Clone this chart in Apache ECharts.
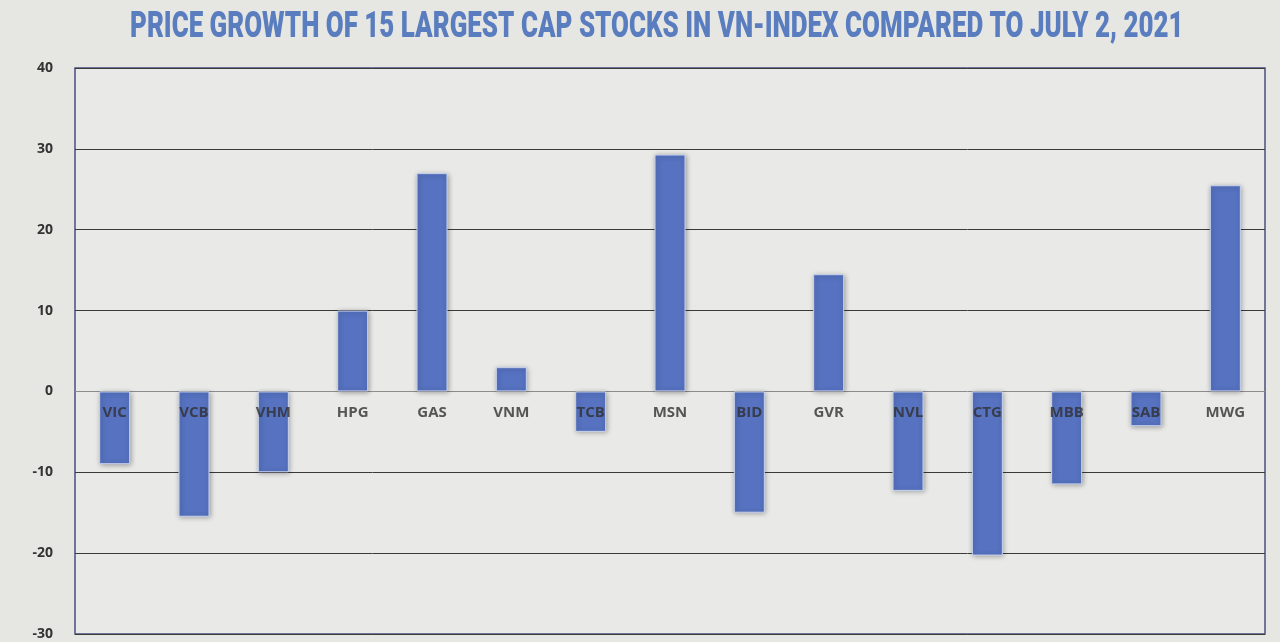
<!DOCTYPE html>
<html><head><meta charset="utf-8">
<script src="https://cdn.jsdelivr.net/npm/echarts@6/dist/echarts.min.js"></script>
<style>html,body{margin:0;padding:0;background:#e6e7e3;}#c{width:1280px;height:642px;}</style>
</head><body><div id="c"></div>
<script>
const categories = ['VIC','VCB','VHM','HPG','GAS','VNM','TCB','MSN','BID','GVR','NVL','CTG','MBB','SAB','MWG'];
const growth = [-9, -15.5, -10, 10, 27, 3, -5, 29.3, -15, 14.5, -12.3, -20.3, -11.5, -4.3, 25.5];
const yTicks = {min: -30, max: 40, interval: 10};
const titleText = 'PRICE GROWTH OF 15 LARGEST CAP STOCKS IN VN-INDEX COMPARED TO JULY 2, 2021';

const gridColors = ['#3a3a3a','#3a3a3a','#3a3a3a','#8c8c8c','#3a3a3a','#3a3a3a','#3a3a3a','#3a3a3a'];

const chart = echarts.init(document.getElementById('c'));
chart.setOption({
  backgroundColor: '#e6e7e3',
  graphic: [{
    type: 'text', left: 130, top: 10, scaleX: 0.72, scaleY: 1,
    style: {text: titleText, fontFamily: 'Roboto, sans-serif', fontWeight: 900, fontSize: 36, fill: '#5a7dbf'}
  }],
  grid: {left: 75, right: 15, top: 68, bottom: 8, show: true, borderColor: '#4a5080', borderWidth: 1.5, backgroundColor: '#e9eae7'},
  xAxis: {
    type: 'category', data: categories,
    axisLine: {show: false},
    axisTick: {show: false},
    axisLabel: {show: false}
  },
  yAxis: {
    type: 'value', min: yTicks.min, max: yTicks.max, interval: yTicks.interval,
    axisLine: {show: false}, axisTick: {show: false},
    splitLine: {lineStyle: {color: gridColors, width: 1}},
    axisLabel: {margin: 22, fontFamily: 'Open Sans, sans-serif', fontWeight: 'bold', fontSize: 14, color: '#333'}
  },
  series: [{
    type: 'bar', data: growth, barWidth: 31,
    itemStyle: {color: '#5672c0', borderColor: '#c9d4ef', borderWidth: 1, shadowColor: 'rgba(0,0,0,0.35)', shadowBlur: 5, shadowOffsetX: 1, shadowOffsetY: 1}
  }, {
    type: 'scatter', data: categories.map(c => [c, 0]), symbolSize: 0, z: 10, silent: true,
    label: {show: true, position: 'bottom', distance: 14, formatter: p => p.data[0],
      fontFamily: 'Open Sans, sans-serif', fontWeight: 'bold', fontSize: 15, color: '#2f2f2f'}
  }]
});
</script></body></html>
